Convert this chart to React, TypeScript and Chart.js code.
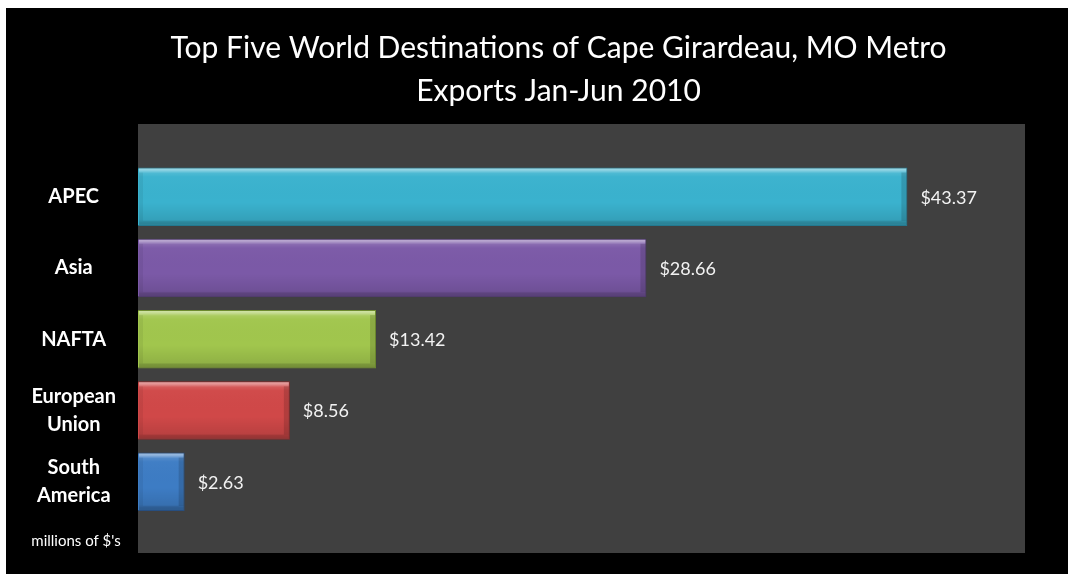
import React, { useEffect, useRef } from "react";
import { Chart, registerables } from "chart.js";

Chart.register(...registerables);

const titleLines = ["Top Five World Destinations of Cape Girardeau, MO Metro", "Exports Jan-Jun 2010"];
const categories: string[][] = [["APEC"], ["Asia"], ["NAFTA"], ["European", "Union"], ["South", "America"]];
const values: number[] = [43.37, 28.66, 13.42, 8.56, 2.63];
const fillColors: string[] = ["#3AB2CE", "#7B59A7", "#A1C64D", "#D04848", "#3D7CC4"];
const borderColors: string[] = ["#23788F", "#4B346E", "#6C8A2E", "#8A2A2A", "#274E80"];
const unitNote = "millions of $'s";

const FONT = "Lato, 'Open Sans', sans-serif";

const bgPlugin = {
  id: "plotBg",
  beforeDraw(chart: any) {
    const { ctx, chartArea } = chart;
    ctx.save();
    ctx.fillStyle = "#404040";
    ctx.fillRect(chartArea.left, chartArea.top, chartArea.right - chartArea.left, chartArea.bottom - chartArea.top);
    ctx.fillStyle = "#FFFFFF";
    ctx.font = `30px ${FONT}`;
    ctx.textAlign = "center";
    ctx.textBaseline = "middle";
    const cx = (chartArea.left + chartArea.right) / 2 - 23;
    titleLines.forEach((t, i) => ctx.fillText(t, cx, 40 + i * 43));
    ctx.restore();
  },
};

const bevelPlugin = {
  id: "bevel",
  afterDatasetsDraw(chart: any) {
    const { ctx, chartArea } = chart;
    const meta = chart.getDatasetMeta(0);
    meta.data.forEach((el: any, i: number) => {
      const { x, y, base, height } = el.getProps(["x", "y", "base", "height"], true);
      const left = Math.min(x, base);
      const right = Math.max(x, base);
      const top = y - height / 2;
      const bottom = y + height / 2;
      const w = right - left;
      ctx.save();
      const g = ctx.createLinearGradient(0, top, 0, bottom);
      g.addColorStop(0, "rgba(255,255,255,0.55)");
      g.addColorStop(0.05, "rgba(255,255,255,0.4)");
      g.addColorStop(0.1, "rgba(255,255,255,0.1)");
      g.addColorStop(0.16, "rgba(255,255,255,0.02)");
      g.addColorStop(0.6, "rgba(0,0,0,0.0)");
      g.addColorStop(0.9, "rgba(0,0,0,0.1)");
      g.addColorStop(0.93, "rgba(0,0,0,0.24)");
      g.addColorStop(1, "rgba(0,0,0,0.3)");
      ctx.fillStyle = g;
      ctx.fillRect(left + 1, top + 1, w - 2, height - 2);
      ctx.fillStyle = "rgba(0,0,0,0.14)";
      ctx.fillRect(right - 6, top + 5, 5, height - 10);
      ctx.fillStyle = "rgba(0,0,0,0.06)";
      ctx.fillRect(left + 1, top + 5, 4, height - 10);
      ctx.fillStyle = "#F2F2F2";
      ctx.font = `18px ${FONT}`;
      ctx.textAlign = "left";
      ctx.textBaseline = "middle";
      ctx.fillText("$" + values[i].toFixed(2), right + 13, y + 1);
      ctx.restore();
    });
    ctx.save();
    ctx.fillStyle = "#FFFFFF";
    ctx.font = `15px ${FONT}`;
    ctx.textAlign = "center";
    ctx.textBaseline = "middle";
    ctx.fillText(unitNote, chartArea.left - 62, chartArea.bottom - 12);
    ctx.restore();
  },
};

export default function App() {
  const ref = useRef<HTMLCanvasElement | null>(null);
  useEffect(() => {
    if (!ref.current) return;
    const chart = new Chart(ref.current, {
      type: "bar",
      data: {
        datasets: [
          {
            data: values.map((v, i) => ({ x: v, y: i })),
            backgroundColor: fillColors,
            borderColor: borderColors,
            borderWidth: 1,
            barPercentage: 0.82,
            categoryPercentage: 1,
          },
        ],
      },
      options: {
        indexAxis: "y",
        animation: false,
        responsive: true,
        maintainAspectRatio: false,
        layout: { padding: { left: 0, right: 43, top: 116, bottom: 21 } },
        plugins: {
          legend: { display: false },
          tooltip: { enabled: false },
          title: { display: false },
        },
        scales: {
          x: { type: "linear", min: 0, max: 50, display: false },
          y: {
            type: "linear",
            reverse: true,
            offset: false,
            min: -1.02,
            max: 5.0,
            grid: { display: false, drawTicks: false, offset: false },
            border: { display: false },
            afterBuildTicks: (s: any) => {
              s.ticks = categories.map((_, i) => ({ value: i }));
            },
            afterFit: (s: any) => {
              s.width = 132;
              s.paddingTop = 0;
              s.paddingBottom = 0;
            },
            ticks: {
              autoSkip: false,
              color: "#FFFFFF",
              crossAlign: "center",
              padding: 22,
              font: { family: FONT, size: 20, weight: "bold", lineHeight: 1.4 },
              callback: (v: any) => categories[Number(v)] ?? "",
            },
          },
        },
      },
      plugins: [bgPlugin, bevelPlugin],
    } as any);
    return () => chart.destroy();
  }, []);
  return (
    <div style={{ position: "fixed", left: 6, top: 8, width: 1062, height: 566, background: "#000" }}>
      <canvas ref={ref} />
    </div>
  );
}
